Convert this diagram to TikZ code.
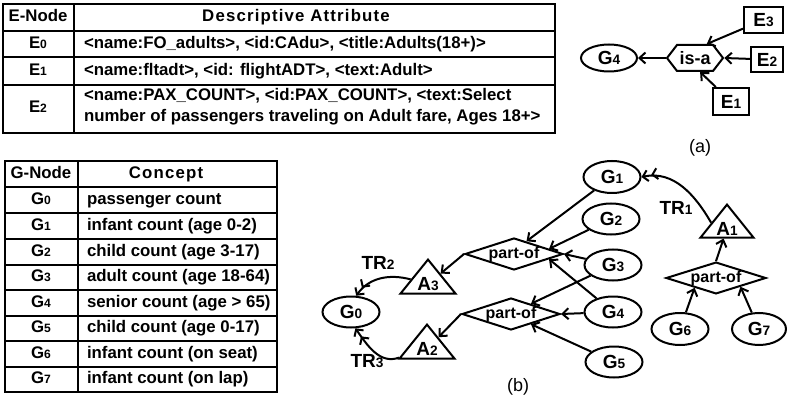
\documentclass[tikz,border=0pt]{standalone}
\usepackage{fontspec}
\setmainfont{Liberation Sans}
\usepackage{graphicx}
\usetikzlibrary{shapes.geometric,shapes.symbols,arrows.meta,calc}

% small digit set on the baseline, used for node indices
\newcommand\dg[1]{\scalebox{0.72}{#1}}

\begin{document}
\begin{tikzpicture}[x=1pt,y=-1pt,line width=2pt,
  tfont/.style={font=\fontsize{16.8}{19}\selectfont\bfseries},
  gfont/.style={font=\fontsize{19}{21}\selectfont\bfseries},
  cellC/.style={tfont,inner sep=0pt,text height=11.5pt,text depth=3pt},
  cellL/.style={cellC,anchor=west},
  spaced/.style={font=\fontsize{16.8}{19}\selectfont\bfseries\addfontfeature{LetterSpace=7},
    inner sep=0pt,text height=11.5pt,text depth=3pt},
  gnode/.style={ellipse,draw,gfont,inner sep=0pt,minimum width=57pt,minimum height=31pt},
  rel/.style={diamond,draw,font=\fontsize{16}{18}\selectfont\bfseries,inner sep=0pt,
    aspect=3,minimum width=98pt,minimum height=32pt},
  agg/.style={isosceles triangle,isosceles triangle apex angle=78,
    isosceles triangle stretches,shape border rotate=90,draw,gfont,inner sep=0pt,
    minimum width=55pt,minimum height=34pt},
  enode/.style={rectangle,draw,gfont,inner sep=0pt,minimum height=26pt},
  isabox/.style={signal,signal to=west and east,signal pointer angle=105,draw,
    font=\fontsize{18}{20}\selectfont\bfseries,inner sep=0pt,minimum width=56pt,minimum height=26pt},
  arr/.style={-{Straight Barb[length=6pt,width=11pt]}},
  darr/.style={-{Straight Barb[length=5pt,width=11pt,sep=2.5pt]Straight Barb[length=5pt,width=11pt]}},
  subcap/.style={font=\fontsize{18}{20}\selectfont},
]
\useasboundingbox (0,0) rectangle (787,398);

% ---------- E-node table ----------
\draw (3,4) rectangle (555,133);
\draw (74,4) -- (74,133);
\foreach \yy in {31,57,85} \draw (3,\yy) -- (555,\yy);
\node[cellC] (eh) at (38,17.5) {E-Node};
\node[spaced] (ah) at (296,17.5) {Descriptive Attribute};
\node[cellC] (e0) at (38,44) {E\dg{0}};
\node[cellL] (a0) at (83,44) {<name:FO\_adults>, <id:CAdu>, <title:Adults(18+)>};
\node[cellC] (e1) at (38,71) {E\dg{1}};
\node[cellL] (a1) at (83,71) {<name:fltadt>, <id: flightADT>, <text:Adult>};
\node[cellC] (e2) at (38,108) {E\dg{2}};
\node[cellL] (a2) at (83,96) {<name:PAX\_COUNT>, <id:PAX\_COUNT>, <text:Select};
\node[cellL] (a2b) at (83,117) {number of passengers traveling on Adult fare, Ages 18+>};

% ---------- G-node table ----------
\draw (5,161) rectangle (277,392);
\draw (78,161) -- (78,392);
\foreach \yy in {187,213,239,265,290,316,341,367} \draw (5,\yy) -- (277,\yy);
\node[cellC] (gh) at (41,174) {G-Node};
\node[spaced] (ch) at (166,174) {Concept};
\foreach \i/\yy/\txt in {0/200/passenger count,
                          1/226/infant count (age 0-2),
                          2/252/child count (age 3-17),
                          3/277.5/adult count (age 18-64),
                          4/303/senior count (age > 65),
                          5/328.5/child count (age 0-17),
                          6/354/infant count (on seat),
                          7/379.5/infant count (on lap)} {
  \node[cellC] (g\i) at (41,\yy) {G\dg{\i}};
  \node[cellL] (c\i) at (86,\yy) {\txt};
}

% ---------- (a) is-a graph ----------
\node[gnode,minimum width=56pt,minimum height=27pt] (aG4) at (609,58) {G\dg{4}};
\node[isabox] (isa) at (695,58) {is-a};
\node[enode,minimum width=39pt] (E3) at (763.5,20) {E\dg{3}};
\node[enode,minimum width=32pt,minimum height=25pt] (E2) at (767,59.5) {E\dg{2}};
\node[enode,minimum width=36pt,minimum height=27pt] (E1) at (731,101.5) {E\dg{1}};
\draw[arr] (E3) -- (isa.50);
\draw[arr] (E2) -- (isa.east);
\draw[arr] (E1) -- (isa.-70);
\draw[arr] (isa.west) -- (aG4);
\node[subcap] (la) at (700,148) {(a)};

% ---------- (b) part-of graph ----------
\node[gnode] (G0) at (351,312) {G\dg{0}};
\node[gnode,minimum height=32pt] (G1) at (612,177) {G\dg{1}};
\node[gnode] (G2) at (611,219) {G\dg{2}};
\node[gnode] (G3) at (613,265) {G\dg{3}};
\node[gnode] (G4) at (613,312) {G\dg{4}};
\node[gnode] (G5) at (614,362) {G\dg{5}};
\node[gnode,minimum height=32pt] (G6) at (680,329) {G\dg{6}};
\node[gnode,minimum width=54pt,minimum height=32pt] (G7) at (759,329) {G\dg{7}};

\node[rel] (d1) at (514,254) {part-of};
\node[rel] (d2) at (511,314) {part-of};
\node[rel,minimum width=100pt,minimum height=31pt] (d3) at (716,278) {part-of};

\node[agg,anchor=apex] (A3) at (428,258) {A\dg{3}};
\node[agg,anchor=apex] (A2) at (427,323) {A\dg{2}};
\node[agg,anchor=apex,minimum width=53pt,minimum height=33pt] (A1) at (727,203) {A\dg{1}};

% parts into the upper relation
\draw[arr] (G1) -- ($(d1.north)!0.25!(d1.east)$);
\draw[arr] (G2) -- ($(d1.north)!0.7!(d1.east)$);
\draw[arr] (G3) -- (d1.east);
\draw[arr] (G4) -- ($(d1.east)!0.3!(d1.south)$);
% parts into the lower relation
\draw[arr] (G3) -- ($(d2.north)!0.4!(d2.east)$);
\draw[arr] (G4) -- (d2.east);
\draw[arr] (G5) -- ($(d2.south)!0.4!(d2.east)$);
% parts into the right relation
\draw[arr] (G6) -- ($(d3.south)!0.42!(d3.west)$);
\draw[arr] (G7) -- ($(d3.south)!0.48!(d3.east)$);

\draw[arr] (d1.west) -- (A3);
\draw[arr] (d2.west) -- (A2);
\draw[arr] (d3.north) -- (A1);

% transformation rules
\draw[darr] (A3.165) to[out=165,in=55] (G0.72);
\draw[darr] (A2.197) to[out=200,in=-55] (G0.-75);
\draw[darr] (A1.160) to[out=120,in=12] (G1.east);
\node[gfont] (tr2) at (378,263) {TR\dg{2}};
\node[gfont] (tr3) at (367,361) {TR\dg{3}};
\node[gfont] (tr1) at (676,208) {TR\dg{1}};

\node[subcap] (lb) at (518,387) {(b)};
\end{tikzpicture}
\end{document}
